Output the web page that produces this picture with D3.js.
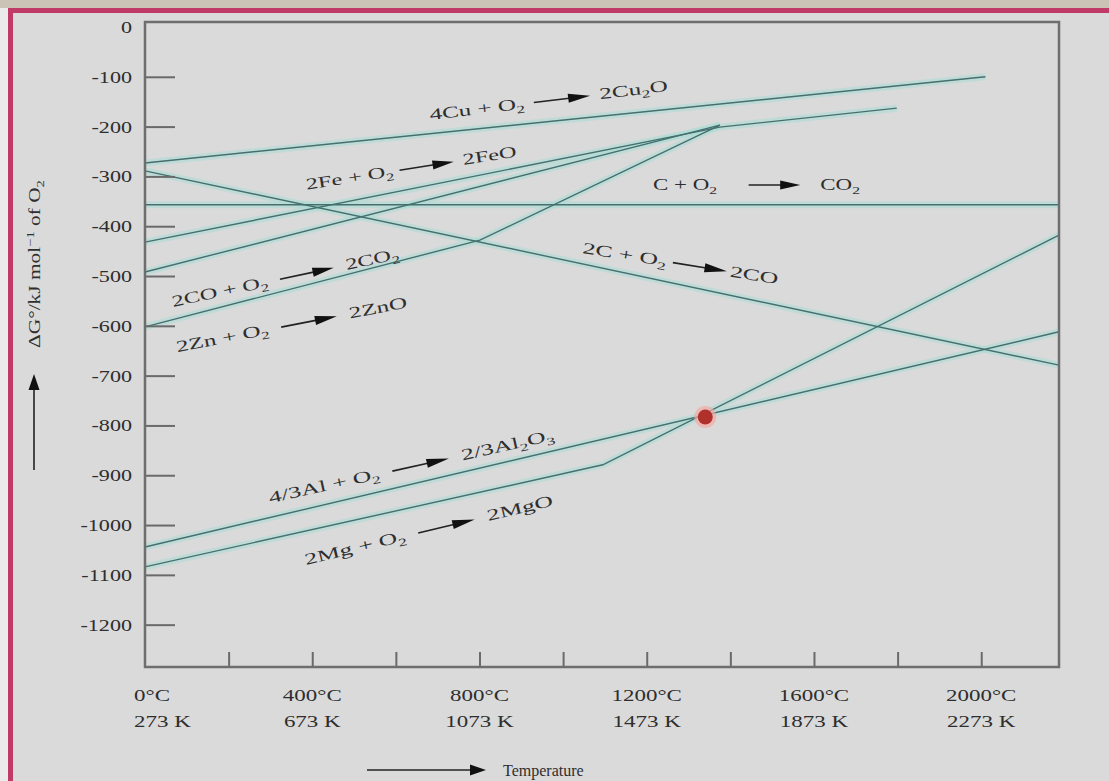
<!DOCTYPE html>
<html><head><meta charset="utf-8">
<script src="https://cdn.jsdelivr.net/npm/d3@7"></script>
<style>
html,body{margin:0;padding:0;background:#dadada;overflow:hidden;}
svg{display:block;}
text{font-family:"Liberation Serif","Times New Roman",serif;fill:#2e2e2e;}
</style></head><body>
<svg id="chart" width="1109" height="781"></svg>
<script>
// ---------- data ----------
const yTickValues = [0,-100,-200,-300,-400,-500,-600,-700,-800,-900,-1000,-1100,-1200];
const xTickValues = [0,200,400,600,800,1000,1200,1400,1600,1800,2000];
const xLabelValues = [0,400,800,1200,1600,2000];
const xLabelsC = ["0°C","400°C","800°C","1200°C","1600°C","2000°C"];
const xLabelsK = ["273 K","673 K","1073 K","1473 K","1873 K","2273 K"];

const cuTemp = [0, 2010],          cuDG = [-273, -100];   // 4Cu + O2 -> 2Cu2O
const cTemp  = [0, 2186],          cDG  = [-289, -679];   // 2C + O2 -> 2CO
const co2Temp= [0, 2186],          co2DG= [-357, -357];   // C + O2 -> CO2
const feTemp = [0, 1375, 1798],    feDG = [-432, -201, -163];   // 2Fe + O2 -> 2FeO
const coTemp = [0, 1375],          coDG = [-492, -197];   // 2CO + O2 -> 2CO2
const znTemp = [0, 801, 1375],     znDG = [-602, -428, -197]; // 2Zn + O2 -> 2ZnO
const alTemp = [0, 2186],          alDG = [-1044, -612];  // 4/3Al + O2 -> 2/3Al2O3
const mgTemp = [0, 1095, 2186],    mgDG = [-1084, -879, -418]; // 2Mg + O2 -> 2MgO
const markTemp = [1340],           markDG = [-783];

const series = [
  [cuTemp, cuDG], [cTemp, cDG], [co2Temp, co2DG], [feTemp, feDG],
  [coTemp, coDG], [znTemp, znDG], [alTemp, alDG], [mgTemp, mgDG]
];

// ---------- layout ----------
const svg = d3.select("#chart");
const x = d3.scaleLinear().domain([0, 2186]).range([145, 1059]);
const y = d3.scaleLinear().domain([-1285, 10]).range([667, 22]);

// page decorations
svg.append("rect").attr("x",0).attr("y",0).attr("width",1109).attr("height",781).attr("fill","#dadada");
svg.append("rect").attr("x",0).attr("y",0).attr("width",8).attr("height",781).attr("fill","#ebebeb");
svg.append("rect").attr("x",0).attr("y",0).attr("width",1109).attr("height",8).attr("fill","#cbc3b6");
svg.append("rect").attr("x",8).attr("y",8).attr("width",1101).attr("height",5).attr("fill","#bf3a66");
svg.append("rect").attr("x",8).attr("y",8).attr("width",5).attr("height",781).attr("fill","#bf3a66");

// lines
const line = d3.line().x(d => x(d[0])).y(d => y(d[1]));
const pts = s => s[0].map((t,i) => [t, s[1][i]]);
const lg = svg.append("g");
series.forEach(s => {
  lg.append("path").attr("d", line(pts(s))).attr("fill","none")
    .attr("stroke","#a9ddd6").attr("stroke-opacity",0.55).attr("stroke-width",7);
});
series.forEach(s => {
  lg.append("path").attr("d", line(pts(s))).attr("fill","none")
    .attr("stroke","#466f6e").attr("stroke-width",1.4);
});

// marker
svg.append("circle").attr("cx", x(markTemp[0])).attr("cy", y(markDG[0])).attr("r", 11)
  .attr("fill","#f3a9a4").attr("opacity",0.7);
svg.append("circle").attr("cx", x(markTemp[0])).attr("cy", y(markDG[0])).attr("r", 7.5)
  .attr("fill","#b0302c");

// axes
const yAxis = d3.axisLeft(y).tickValues(yTickValues).tickSizeInner(-30).tickSizeOuter(0).tickPadding(13);
const gy = svg.append("g").attr("transform","translate(145,0)").call(yAxis);
gy.select(".domain").remove();
gy.selectAll(".tick line").attr("stroke","#6a6a6a").attr("stroke-width",2)
  .attr("x2", d => d === 0 ? 0 : 30);
gy.selectAll(".tick text").attr("font-size",17).attr("font-family","Liberation Serif").attr("fill","#333")
  .text(d => d === 0 ? "0" : "-" + Math.abs(d))
  .each(function(){ const w=this.getComputedTextLength(); d3.select(this).attr("textLength", w*1.3).attr("lengthAdjust","spacingAndGlyphs"); });

const xAxis = d3.axisBottom(x).tickValues(xTickValues).tickSizeInner(-15).tickSizeOuter(0).tickFormat("");
const gx = svg.append("g").attr("transform","translate(0,667)").call(xAxis);
gx.select(".domain").remove();
gx.selectAll(".tick line").attr("stroke","#6a6a6a").attr("stroke-width",2)
  .attr("y2", d => d === 0 ? 0 : -15);

const xl = svg.append("g");
xLabelValues.forEach((v,i) => {
  [xLabelsC[i], xLabelsK[i]].forEach((s,j) => {
    const t = xl.append("text").attr("x", v === 0 ? 134 : x(v)).attr("y", 701 + j*26)
      .attr("text-anchor", v === 0 ? "start" : "middle").attr("font-size",17).attr("fill","#333").text(s);
    const w = t.node().getComputedTextLength();
    t.attr("textLength", w*1.35).attr("lengthAdjust","spacingAndGlyphs");
  });
});

// frame
svg.append("rect").attr("x",145).attr("y",22).attr("width",914).attr("height",645)
  .attr("fill","none").attr("stroke","#6e6e6e").attr("stroke-width",2.5);

// reaction labels
function arrowLabel(parent, parts, px, py, angle, target, fs) {
  const g = parent.append("g");
  let cx = 0;
  parts.forEach(p => {
    if (p.gap) { cx += p.gap; return; }
    if (p.arrow) {
      g.append("line").attr("x1",cx).attr("x2",cx+p.arrow-12).attr("y1",-fs*0.3).attr("y2",-fs*0.3)
        .attr("stroke","#222").attr("stroke-width",1.6);
      g.append("path").attr("d",`M${cx+p.arrow-14},${-fs*0.3-4.5}L${cx+p.arrow},${-fs*0.3}L${cx+p.arrow-14},${-fs*0.3+4.5}Z`).attr("fill","#111");
      cx += p.arrow; return;
    }
    const t = g.append("text").attr("x",cx).attr("y", p.sub ? 4 : (p.sup ? -6 : 0))
      .attr("font-size", (p.sub||p.sup) ? fs*0.68 : fs).attr("style","white-space:pre").text(p.t);
    cx += t.node().getComputedTextLength();
  });
  g.attr("transform",`translate(${px},${py}) rotate(${angle}) scale(${target/cx},1)`);
  return g;
}
const lab = svg.append("g");
const T = s => ({t:s}), S = s => ({t:s, sub:true}), A = n => ({arrow:n}), G = n => ({gap:n});
arrowLabel(lab, [T("4Cu + O"),S("2"),G(6),A(36),G(6),T("2Cu"),S("2"),T("O")], x(682), y(-187), -7, 240, 16);
arrowLabel(lab, [T("2Fe + O"),S("2"),G(4),A(36),G(6),T("2FeO")], x(387), y(-327), -9, 213, 16);
arrowLabel(lab, [T("C + O"),S("2"),G(22),A(36),G(14),T("CO"),S("2")], x(1215), y(-327), 0, 207, 16);
arrowLabel(lab, [T("2C + O"),S("2"),G(4),A(34),G(2),T("2CO")], x(1045), y(-454), 9, 198, 16);
arrowLabel(lab, [T("2CO + O"),S("2"),G(8),A(36),G(8),T("2CO"),S("2")], x(67), y(-562), -12, 232, 16);
arrowLabel(lab, [T("2Zn + O"),S("2"),G(8),A(36),G(8),T("2ZnO")], x(77), y(-653), -11, 235, 16);
arrowLabel(lab, [T("4/3Al + O"),S("2"),G(8),A(36),G(8),T("2/3Al"),S("2"),T("O"),S("3")], x(299), y(-956), -12.5, 292, 16);
arrowLabel(lab, [T("2Mg + O"),S("2"),G(8),A(36),G(8),T("2MgO")], x(385), y(-1080), -13.5, 255, 16);

// y-axis title with arrow
const ytg = svg.append("g");
const yt = ytg.append("text").attr("text-anchor","start").attr("font-size",16);
yt.append("tspan").text("ΔG°/kJ mol");
yt.append("tspan").attr("dy",-6).attr("font-size",11).text("−1");
yt.append("tspan").attr("dy",6).text(" of O");
yt.append("tspan").attr("dy",4).attr("font-size",11).text("2");
const ytw = yt.node().getComputedTextLength();
ytg.attr("transform",`translate(40,348) rotate(-90) scale(${168/ytw},1)`);
svg.append("line").attr("x1",34).attr("x2",34).attr("y1",470).attr("y2",388).attr("stroke","#222").attr("stroke-width",1.6);
svg.append("path").attr("d","M28.5,390L34,374L39.5,390Z").attr("fill","#111");

// x-axis title with arrow
svg.append("line").attr("x1",367).attr("x2",472).attr("y1",770).attr("y2",770).attr("stroke","#222").attr("stroke-width",1.6);
svg.append("path").attr("d","M470,764.5L486,770L470,775.5Z").attr("fill","#111");
svg.append("text").attr("x",503).attr("y",776).attr("font-size",16).text("Temperature");
</script>
</body></html>
